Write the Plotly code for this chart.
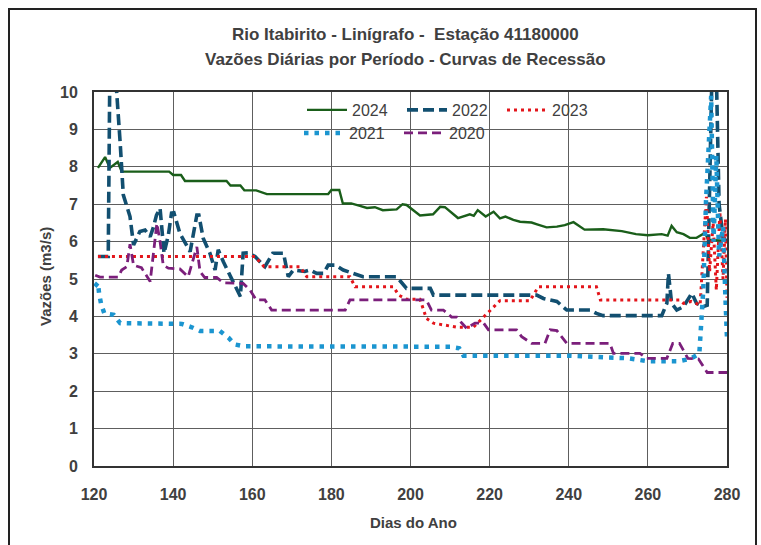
import plotly.graph_objects as go

# ---------------- data (day of year, flow m3/s) ----------------
d2024 = [121, 122.8, 124, 126, 127, 139, 140, 142, 143, 153.5, 154.5, 157, 158, 161, 163.7, 179.2, 180, 182,
         182.9, 185, 187, 189, 191, 193, 196.5, 198, 199, 200, 202.4, 205.7, 207.5, 208.7, 212, 215, 216, 217,
         219, 221, 222.6, 224, 226, 227.7, 230.6, 232, 234.4, 237, 239, 241.2, 244, 248.7, 253.4, 257, 260,
         263.5, 265, 266, 267.3, 269, 270.6, 272.3, 274.4, 275.3, 280]
q2024 = [7.97, 8.26, 7.97, 8.13, 7.87, 7.87, 7.78, 7.78, 7.62, 7.62, 7.5, 7.5, 7.37, 7.37, 7.27, 7.27, 7.38, 7.38,
         7.02, 7.02, 6.96, 6.9, 6.92, 6.84, 6.86, 7.0, 6.98, 6.9, 6.7, 6.73, 6.93, 6.92, 6.63, 6.73, 6.69, 6.84,
         6.67, 6.8, 6.62, 6.67, 6.58, 6.53, 6.51, 6.46, 6.38, 6.4, 6.44, 6.52, 6.32, 6.33, 6.28, 6.2, 6.17,
         6.2, 6.16, 6.42, 6.25, 6.2, 6.1, 6.1, 6.23, 6.05, 6.02]

d2022 = [121, 123.6, 124, 125.4, 126.6, 127.4, 129.1, 130, 131.6, 132.9, 134.2, 135, 135.8, 136.7, 137.7, 138.8,
         139.6, 140.2, 141.7, 143.4, 144.3, 146, 146.5, 147.6, 149.3, 150.6, 151.4, 152.7, 154.4, 156, 157,
         157.7, 159, 160.7, 163.2, 165.2, 167.9, 169.1, 170.4, 173.3, 174.6, 176.3, 178, 179.2, 181, 183, 184.7,
         188, 196.5, 199, 205, 205.8, 231.9, 233.6, 237, 239.5, 245.4, 247, 248.7, 263.5, 264.8, 265.2, 266,
         267.3, 269, 271.1, 272.3, 274, 275, 276.2, 277.3, 278, 279, 280]
q2022 = [5.6, 5.6, 10.5, 10.5, 8.67, 7.25, 6.67, 5.91, 6.27, 6.31, 6.13, 6.38, 6.71, 6.89, 5.69, 6.18,
         6.76, 6.77, 6.22, 5.91, 5.73, 6.71, 6.71, 6.09, 5.69, 5.24, 5.78, 5.46, 5.1, 4.79, 4.53,
         5.69, 5.7, 5.6, 5.33, 5.69, 5.69, 5.06, 5.24, 5.2, 5.24, 5.15, 5.15, 5.37, 5.37, 5.24, 5.18,
         5.06, 5.06, 4.75, 4.75, 4.57, 4.57, 4.48, 4.4, 4.17, 4.17, 4.08, 4.02, 4.02, 4.35, 5.15, 4.35,
         4.17, 4.26, 4.62, 4.35, 4.26, 4.3, 10.5, 10.5, 7.0, 6.1, 6.0]

d2023 = [121, 160.7, 163, 172, 173.8, 184.7, 186, 195.7, 197, 199, 202.4, 204, 205.8, 209, 211.7, 215.9, 217.6,
         220.1, 222.6, 230.2, 232.3, 247, 248, 268, 269, 271, 273.2, 274.8, 275.6, 276.5, 277.3, 278.2, 279,
         279.6, 280]
q2023 = [5.6, 5.6, 5.33, 5.33, 5.06, 5.06, 4.79, 4.79, 4.57, 4.46, 4.46, 3.95, 3.82, 3.77, 3.71, 3.71, 3.89,
         4.17, 4.42, 4.42, 4.79, 4.79, 4.44, 4.44, 4.35, 4.4, 4.3, 7.2, 5.2, 6.5, 4.7, 6.8, 5.0,
         6.6, 4.5]

d2021 = [120.2, 121, 121.3, 121.8, 122.6, 125, 126.6, 142.2, 144.7, 146.8, 151.8, 154, 155.6, 157.9, 210, 212.3,
         213.4, 240, 255, 260, 267.7, 270.6, 273, 274, 274.7, 276, 276.6, 277.3, 278, 279, 279.6, 280]
q2021 = [4.8, 4.9, 4.6, 4.33, 4.08, 4.04, 3.82, 3.8, 3.71, 3.61, 3.61, 3.43, 3.25, 3.2, 3.19, 3.15,
         2.95, 2.95, 2.88, 2.8, 2.8, 2.86, 3.0, 4.7, 7.1, 9.9, 6.0, 8.3, 5.6, 6.4, 4.5, 3.4]

d2020 = [120.3, 121.5, 126.1, 127, 128.3, 129.1, 130, 132, 134.2, 135.9, 136.7, 137.5, 138.8, 141.7, 143.8, 146,
         146.8, 148, 151, 152.7, 157.7, 159.4, 161, 163.2, 164.9, 183.5, 184.7, 204, 205.3, 208.3, 210.4, 211.7,
         212.9, 214.2, 216.3, 218.5, 219.7, 226.8, 228.1, 230.6, 234, 235.3, 237, 239.5, 250.4, 251.3, 258,
         259.7, 264.8, 266.3, 268, 270.1, 272.8, 275, 280]
q2020 = [5.1, 5.05, 5.05, 5.24, 5.33, 5.93, 5.37, 5.3, 4.93, 6.49, 6.0, 5.37, 5.29, 5.27, 5.06, 5.86,
         5.2, 5.04, 5.04, 4.9, 4.88, 4.71, 4.44, 4.44, 4.17, 4.17, 4.44, 4.44, 4.17, 4.17, 3.98, 3.98,
         3.83, 3.68, 3.82, 3.82, 3.64, 3.64, 3.46, 3.28, 3.28, 3.64, 3.62, 3.28, 3.28, 3.01, 3.01,
         2.88, 2.88, 3.28, 3.28, 2.88, 2.86, 2.5, 2.5]

x_ticks = [120, 140, 160, 180, 200, 220, 240, 260, 280]
y_ticks = [0, 1, 2, 3, 4, 5, 6, 7, 8, 9, 10]

title1 = "Rio Itabirito - Linígrafo -  Estação 41180000"
title2 = "Vazões Diárias por Período - Curvas de Recessão"

NARROW = "Liberation Sans Narrow, Arial Narrow, Liberation Sans, sans-serif"
TXT = "#404040"

fig = go.Figure()

series = [
    ("2024", d2024, q2024, dict(color="#1a5e1a", width=2.4), "legend"),
    ("2022", d2022, q2022, dict(color="#124f70", width=3.6, dash="11px,5px"), "legend"),
    ("2023", d2023, q2023, dict(color="#e3151b", width=3, dash="3px,4px"), "legend"),
    ("2021", d2021, q2021, dict(color="#1b95d0", width=4.5, dash="4.5px,6px"), "legend2"),
    ("2020", d2020, q2020, dict(color="#7b1f7b", width=2.8, dash="9px,5px"), "legend2"),
]
for name, xs, ys, line, lg in series:
    fig.add_trace(go.Scatter(x=xs, y=ys, mode="lines", name=name, line=line, legend=lg))

W, H = 761, 545
L, R, T, B = 94, 34, 92, 79
pw, ph = W - L - R, H - T - B

def px(xp):
    return (xp - L) / pw

def py(yp):
    return (H - B - yp) / ph

# white box behind legend (above grid, below traces)
fig.add_shape(type="rect", xref="paper", yref="paper", x0=px(297), x1=px(597), y0=py(148), y1=1,
              fillcolor="white", line=dict(width=0), layer="between")
# outer chart frame
fig.add_shape(type="rect", xref="paper", yref="paper", x0=px(9), x1=px(756), y0=py(600), y1=py(9),
              fillcolor="rgba(0,0,0,0)", line=dict(color="#222222", width=2), layer="above")

fig.add_annotation(text=title1, xref="paper", yref="paper", x=px(405), y=py(34), showarrow=False,
                   font=dict(family=NARROW, size=17, color=TXT, weight="bold"), xanchor="center", yanchor="middle")
fig.add_annotation(text=title2, xref="paper", yref="paper", x=px(405), y=py(59), showarrow=False,
                   font=dict(family=NARROW, size=17, color=TXT, weight="bold"), xanchor="center", yanchor="middle")
fig.add_annotation(text="Vazões (m3/s)", xref="paper", yref="paper", x=px(45), y=py(277), showarrow=False,
                   textangle=-90, font=dict(family=NARROW, size=15, color=TXT, weight="bold"),
                   xanchor="center", yanchor="middle")
fig.add_annotation(text="Dias do Ano", xref="paper", yref="paper", x=px(413), y=py(522), showarrow=False,
                   font=dict(family=NARROW, size=15, color=TXT, weight="bold"), xanchor="center", yanchor="middle")

axis_common = dict(showgrid=True, gridcolor="#5e5e5e", gridwidth=1.3, showline=True, mirror=True,
                   linecolor="#333333", linewidth=2, zeroline=False, ticks="",
                   tickfont=dict(family=NARROW, size=16, color=TXT, weight="bold"))

LEGFONT = dict(family="Liberation Sans, Arial, sans-serif", size=16, color=TXT)

fig.update_layout(
    width=W, height=H,
    margin=dict(l=L, r=R, t=T, b=B),
    paper_bgcolor="white", plot_bgcolor="white",
    xaxis=dict(range=[120, 280], tickvals=x_ticks, ticklabelstandoff=13, **axis_common),
    yaxis=dict(range=[0, 10], tickvals=y_ticks, ticklabelstandoff=11, **axis_common),
    legend=dict(orientation="h", x=px(302), y=py(93), xanchor="left", yanchor="top",
                bgcolor="rgba(0,0,0,0)", itemwidth=40, entrywidth=45,
                font=LEGFONT, tracegroupgap=0),
    legend2=dict(orientation="h", x=px(299), y=py(116), xanchor="left", yanchor="top",
                 bgcolor="rgba(0,0,0,0)", itemwidth=40, entrywidth=45,
                 font=LEGFONT, tracegroupgap=0),
    showlegend=True,
)

fig.write_html("out.html")
